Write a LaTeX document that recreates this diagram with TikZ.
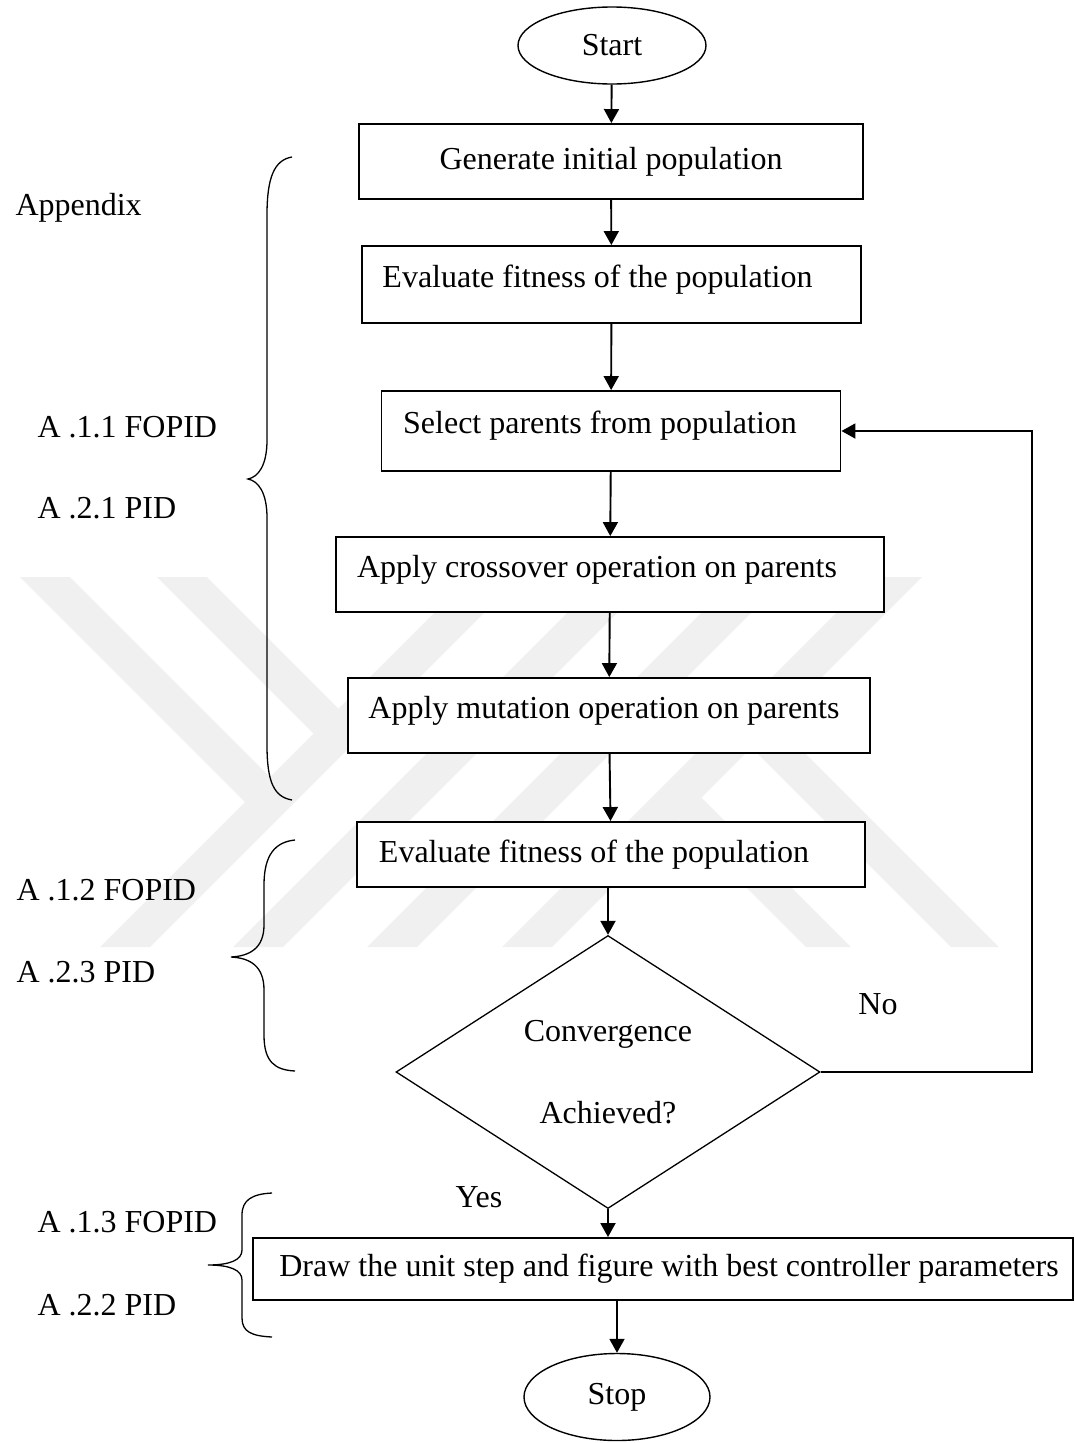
\documentclass[tikz,border=0pt]{standalone}
\usepackage{fontspec}
\setmainfont{Liberation Serif}
\usetikzlibrary{shapes.geometric,arrows.meta}
\definecolor{wmgray}{HTML}{F0F0F0}

\begin{document}
\begin{tikzpicture}[x=1pt,y=-1pt,
    every node/.style={font=\fontsize{32}{38}\selectfont},
    stepbox/.style={rectangle, draw, line width=1.9pt, fill=white, inner sep=0pt},
    raised/.style={text depth=17pt},
    term/.style={ellipse, draw, line width=1.4pt, fill=white, inner sep=0pt},
    decide/.style={diamond, draw, line width=1.3pt, fill=white, inner sep=0pt,
                   shape aspect=1.55, align=center},
    flow/.style={line width=1.9pt, -{Triangle[length=14pt,width=15pt]}},
    brace/.style={line width=1.3pt},
    wm/.style={fill=wmgray, draw=none}]
\useasboundingbox (0,0) rectangle (1075,1443);

% faint watermark behind the chart
\fill[wm] (20,577) -- (70,577) -- (270,777) -- (245,802) -- cycle;
\fill[wm] (157,577) -- (207,577) -- (338.5,708.5) -- (313.5,733.5) -- cycle;
\fill[wm] (100,947) -- (150,947) -- (520,577) -- (470,577) -- cycle;
\fill[wm] (233,947) -- (283,947) -- (653,577) -- (603,577) -- cycle;
\fill[wm] (367,947) -- (417,947) -- (787,577) -- (737,577) -- cycle;
\fill[wm] (502,947) -- (552,947) -- (922,577) -- (872,577) -- cycle;
\fill[wm] (679,820) -- (701.5,797.5) -- (851,947) -- (806,947) -- cycle;
\fill[wm] (751.5,747.5) -- (775.5,723.5) -- (999,947) -- (951,947) -- cycle;

% chart
\node[term, minimum width=188pt, minimum height=77pt] (start) at (612,45.5) {Start};
\node[stepbox, minimum width=504pt, minimum height=75pt] (init) at (611,161.5) {Generate initial population};
\node[stepbox, raised, minimum width=499pt, minimum height=77pt] (eval1) at (611.5,284.5) {Evaluate fitness of the population\hspace*{28pt}};
\node[stepbox, raised, minimum width=459pt, minimum height=80pt] (select) at (611,431) {Select parents from population\hspace*{22pt}};
\node[stepbox, raised, minimum width=548pt, minimum height=75pt] (cross) at (610,574.5) {Apply crossover operation on parents\hspace*{26pt}};
\node[stepbox, raised, minimum width=522pt, minimum height=75pt] (mutate) at (609,715.5) {Apply mutation operation on parents\hspace*{10pt}};
\node[stepbox, minimum width=508pt, minimum height=65pt] (eval2) at (611,854.5) {Evaluate fitness of the population\hspace*{34pt}};
\node[decide, minimum width=424pt, minimum height=273pt] (conv) at (608,1072) {Convergence\\[44pt]Achieved?};
\node[stepbox, minimum width=820pt, minimum height=62pt] (draw) at (663,1269) {\hspace*{12pt}Draw the unit step and figure with best controller parameters};
\node[term, minimum width=186pt, minimum height=87pt] (stop) at (617,1397) {Stop};

\node (no) at (878,1004) {No};
\node (yes) at (479,1197) {Yes};

% appendix references
\node[anchor=base west] (appx) at (12,215) {Appendix};
\node[anchor=base west] (a11) at (34,437) {A .1.1 FOPID};
\node[anchor=base west] (a21) at (34,518) {A .2.1 PID};
\node[anchor=base west] (a12) at (13,900) {A .1.2 FOPID};
\node[anchor=base west] (a23) at (13,982) {A .2.3 PID};
\node[anchor=base west] (a13) at (34,1232) {A .1.3 FOPID};
\node[anchor=base west] (a22) at (34,1315) {A .2.2 PID};

\draw[brace] (292,157) .. controls (274,160) and (267,178) .. (267,215) -- (267,440)
  .. controls (267,466) and (258,477) .. (248,479) .. controls (258,481) and (267,492) .. (267,518)
  -- (267,745) .. controls (267,782) and (274,797) .. (292,800);
\draw[brace] (295,840) .. controls (275,842) and (264,855) .. (264,885) -- (264,925)
  .. controls (264,948) and (250,956) .. (231,957) .. controls (250,958) and (264,966) .. (264,990)
  -- (264,1035) .. controls (264,1062) and (275,1070) .. (295,1071);
\draw[brace] (272,1193) .. controls (252,1194) and (242,1200) .. (242,1215) -- (242,1250)
  .. controls (242,1260) and (230,1265) .. (208,1265) .. controls (230,1265) and (242,1270) .. (242,1280)
  -- (242,1318) .. controls (242,1332) and (252,1336) .. (272,1337);

% connectors
\coordinate (back) at (1032,1072);
\draw[flow] (start) -- (init);
\draw[flow] (init) -- (eval1);
\draw[flow] (eval1) -- (select);
\draw[flow] (select) -- (cross);
\draw[flow] (cross) -- (mutate);
\draw[flow] (mutate) -- (eval2);
\draw[flow] (eval2.south -| conv.north) -- (conv.north);
\draw[flow] (conv.south) -- (conv.south |- draw.north);
\draw[flow] (draw.south -| stop.north) -- (stop.north);
\draw[flow] (conv.east) -- (back) |- (select.east);
\end{tikzpicture}
\end{document}
